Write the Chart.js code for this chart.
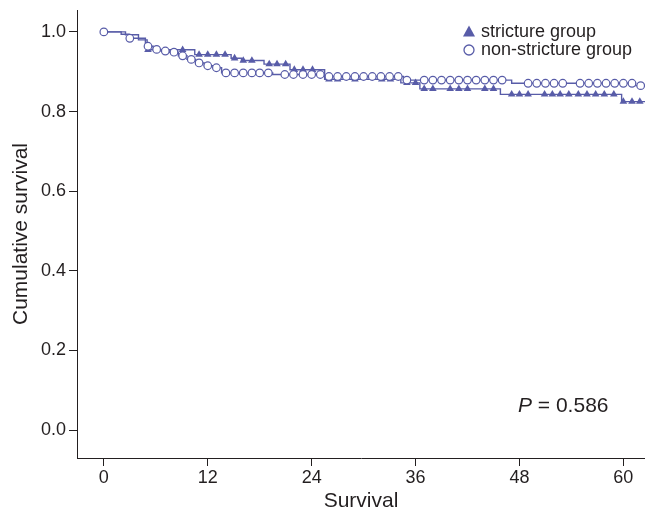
<!DOCTYPE html>
<html>
<head>
<meta charset="utf-8">
<script src="https://cdn.jsdelivr.net/npm/chart.js@4"></script>
<style>
  html, body { margin: 0; padding: 0; background: #fff; }
  #wrap { width: 645px; height: 512px; }
</style>
</head>
<body>
<div id="wrap"><canvas id="kmChart"></canvas></div>
<script>
// axis ticks
const xTicks = [0, 12, 24, 36, 48, 60];
const yTicks = [0, 0.2, 0.4, 0.6, 0.8, 1.0];
const followUpEnd = 62.5;

// stricture group: times where the curve drops, and survival after the drop
const strictureStepT = [0, 2.5, 4.0, 5.0, 10.5, 14.7, 15.9, 18.5, 21.5, 25.5, 34.3, 36.5, 45.8, 59.8];
const strictureStepS = [1.0, 0.993, 0.980, 0.955, 0.943, 0.934, 0.928, 0.919, 0.905, 0.881, 0.872, 0.857, 0.843, 0.825];
// censored times (triangles)
const strictureCensorT = [5.1, 9.1, 11.0, 12.0, 13.0, 14.0, 15.1, 16.1, 17.1, 19.1, 20.0, 21.0, 22.0, 23.0,
  24.1, 26.0, 27.0, 29.0, 32.1, 33.1, 35.0, 36.0, 37.0, 38.0, 40.0, 41.0, 42.0, 44.0, 45.0, 47.1, 48.0,
  49.0, 50.9, 51.8, 52.7, 53.7, 54.8, 55.8, 56.8, 57.8, 58.9, 60.0, 61.0, 61.9];

// non-stricture group
const nonStrictureStepT = [0, 2.0, 2.9, 4.8, 5.7, 6.6, 7.6, 8.6, 9.6, 10.6, 11.6, 12.6, 13.6, 19.5, 25.5, 34.6, 47.1, 61.4];
const nonStrictureStepS = [1.0, 0.994, 0.984, 0.964, 0.956, 0.952, 0.949, 0.940, 0.931, 0.922, 0.915, 0.910, 0.897, 0.893, 0.888, 0.879, 0.871, 0.865];
// censored times (circles)
const nonStrictureCensorT = [0, 3.0, 5.1, 6.1, 7.1, 8.1, 9.1, 10.1, 11.0, 12.0, 13.0, 14.1, 15.1, 16.1, 17.1,
  18.0, 19.0, 20.9, 21.9, 23.0, 24.0, 25.0, 26.0, 27.0, 28.0, 29.0, 30.0, 31.0, 32.0, 33.0, 34.0, 35.0,
  37.0, 38.0, 39.0, 40.0, 41.0, 42.0, 43.0, 44.0, 45.0, 46.0, 49.0, 50.0, 51.0, 52.0, 53.0, 55.0, 56.0,
  57.0, 58.0, 59.0, 60.0, 61.0, 62.0];

const pValueText = '0.586';
const blue = '#585ca8';
const ink = '#231f20';
const fontFam = '"Liberation Sans", Arial, Helvetica, sans-serif';

// survival level of a step curve at time t (censor marks sit on the curve)
function levelAt(stepT, stepS, t) {
  let s = stepS[0];
  for (let i = 0; i < stepT.length; i++) {
    if (stepT[i] <= t) s = stepS[i];
  }
  return s;
}

function stepPoints(stepT, stepS) {
  const pts = stepT.map((t, i) => ({ x: t, y: stepS[i] }));
  pts.push({ x: followUpEnd, y: stepS[stepS.length - 1] });
  return pts;
}

function censorPoints(censorT, stepT, stepS) {
  return censorT.map(t => ({ x: t, y: levelAt(stepT, stepS, t) }));
}

function noPad(s) {
  s.paddingLeft = 0;
  s.paddingRight = 0;
  s.paddingTop = 0;
  s.paddingBottom = 0;
}

// legend + P value drawn inside the plot area
const annotations = {
  id: 'annotations',
  afterDraw(chart) {
    const ctx = chart.ctx;
    ctx.save();
    ctx.font = '18px ' + fontFam;
    ctx.fillStyle = ink;
    ctx.textBaseline = 'middle';
    ctx.textAlign = 'left';
    ctx.fillText('stricture group', 481, 32);
    ctx.fillText('non-stricture group', 481, 50);

    // triangle marker
    ctx.fillStyle = blue;
    ctx.beginPath();
    ctx.moveTo(469, 25.5);
    ctx.lineTo(475, 36.5);
    ctx.lineTo(463, 36.5);
    ctx.closePath();
    ctx.fill();
    // circle marker
    ctx.strokeStyle = blue;
    ctx.lineWidth = 1.3;
    ctx.fillStyle = '#fff';
    ctx.beginPath();
    ctx.arc(469, 50, 5, 0, Math.PI * 2);
    ctx.fill();
    ctx.stroke();

    // P value
    ctx.fillStyle = ink;
    ctx.font = 'italic 21px ' + fontFam;
    ctx.fillText('P', 518, 406);
    const pw = ctx.measureText('P').width;
    ctx.font = '21px ' + fontFam;
    ctx.fillText(' = ' + pValueText, 518 + pw, 406);
    ctx.restore();
  }
};

const ctx = document.getElementById('kmChart').getContext('2d');
new Chart(ctx, {
  type: 'scatter',
  data: {
    datasets: [
      {
        label: 'non-stricture group',
        data: censorPoints(nonStrictureCensorT, nonStrictureStepT, nonStrictureStepS),
        pointStyle: 'circle',
        pointRadius: 3.8,
        pointBackgroundColor: '#fff',
        pointBorderColor: blue,
        pointBorderWidth: 1.2,
        showLine: false,
        order: 0
      },
      {
        label: 'stricture group',
        data: censorPoints(strictureCensorT, strictureStepT, strictureStepS),
        pointStyle: 'triangle',
        pointRadius: 4.4,
        pointBackgroundColor: blue,
        pointBorderColor: blue,
        pointBorderWidth: 0,
        showLine: false,
        order: 1
      },
      {
        label: 'non-stricture line',
        data: stepPoints(nonStrictureStepT, nonStrictureStepS),
        showLine: true,
        stepped: 'before',
        borderColor: blue,
        borderWidth: 1.4,
        pointRadius: 0,
        fill: false,
        order: 2
      },
      {
        label: 'stricture line',
        data: stepPoints(strictureStepT, strictureStepS),
        showLine: true,
        stepped: 'before',
        borderColor: blue,
        borderWidth: 1.4,
        pointRadius: 0,
        fill: false,
        order: 3
      }
    ]
  },
  options: {
    responsive: true,
    maintainAspectRatio: false,
    animation: false,
    layout: { autoPadding: false, padding: { left: 5, top: 10, right: 0, bottom: 0 } },
    plugins: {
      legend: { display: false },
      tooltip: { enabled: false }
    },
    scales: {
      x: {
        type: 'linear',
        min: -3.1,
        max: followUpEnd,
        afterBuildTicks: s => { s.ticks = xTicks.map(v => ({ value: v })); },
        afterFit: s => { s.height = 54; noPad(s); },
        grid: { display: true, drawOnChartArea: false, drawTicks: true, tickLength: 8, color: ink },
        border: { display: true, color: ink, width: 1 },
        ticks: { color: ink, font: { size: 18, family: fontFam }, padding: 1, maxRotation: 0 },
        title: { display: true, text: 'Survival', color: ink, font: { size: 21, family: fontFam },
                 padding: { top: 4, bottom: -2 } }
      },
      y: {
        type: 'linear',
        min: -0.07,
        max: 1.055,
        afterBuildTicks: s => { s.ticks = yTicks.map(v => ({ value: v })); },
        afterFit: s => { s.width = 72; noPad(s); },
        grid: { display: true, drawOnChartArea: false, drawTicks: true, tickLength: 8, color: ink },
        border: { display: true, color: ink, width: 1 },
        ticks: { color: ink, font: { size: 18, family: fontFam }, padding: 3, callback: v => v.toFixed(1) },
        title: { display: true, text: 'Cumulative survival', color: ink, font: { size: 21, family: fontFam } }
      }
    }
  },
  plugins: [annotations]
});
</script>
</body>
</html>
